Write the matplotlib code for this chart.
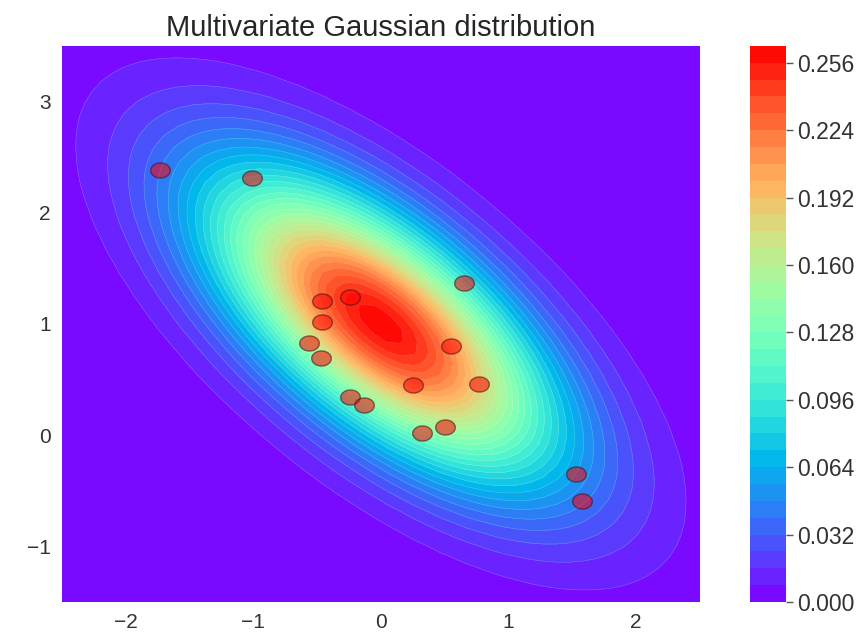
import numpy as np
import matplotlib
matplotlib.use('Agg')
import matplotlib.pyplot as plt
from matplotlib.path import Path

plt.rcParams['font.family'] = ['Liberation Sans', 'DejaVu Sans']

# distribution parameters
mean = [0.0, 1.0]
cov = [[0.82, -0.55], [-0.55, 0.82]]

# sampled points
xs = [-1.73, -1.01, 0.65, -0.46, -0.24, -0.46, -0.56, -0.47, 0.55,
      0.25, 0.77, -0.24, -0.13, 0.32, 0.50, 1.53, 1.58]
ys = [2.38, 2.31, 1.37, 1.21, 1.24, 1.02, 0.83, 0.69, 0.80,
      0.45, 0.46, 0.34, 0.27, 0.02, 0.07, -0.35, -0.59]

cbar_ticks = [0.000, 0.032, 0.064, 0.096, 0.128, 0.160, 0.192, 0.224, 0.256]

# density on a grid
nb = 50
gx = np.linspace(-2.5, 2.5, nb)
gy = np.linspace(-1.5, 3.5, nb)
X, Y = np.meshgrid(gx, gy)
mu = np.array(mean)
S = np.array(cov)
Sinv = np.linalg.inv(S)
D = np.stack([X - mu[0], Y - mu[1]], axis=-1)
q = np.einsum('...i,ij,...j->...', D, Sinv, D)
Z = np.exp(-0.5 * q) / (2 * np.pi * np.sqrt(np.linalg.det(S)))

levels = np.arange(0, 0.2641, 0.008)
Z = np.minimum(Z, levels[-1] - 1e-6)

# slightly wide circle marker (reference picture is stretched sideways)
t = np.linspace(0, 2 * np.pi, 60)
wide_dot = Path(np.column_stack([1.3 * np.cos(t), np.sin(t)]), closed=True)

fig = plt.figure(figsize=(8.65, 6.37), dpi=100)
ax = fig.add_axes([0.0717, 0.055, 0.7373, 0.873])
cax = fig.add_axes([0.867, 0.055, 0.0416, 0.873])

cs = ax.contourf(X, Y, Z, levels=levels, cmap='rainbow')
ax.contour(X, Y, Z, levels=levels[1:], colors='white', linewidths=0.4, alpha=0.25)
ax.scatter(xs, ys, s=200, marker=wide_dot, color='red', alpha=0.55,
           edgecolors='#3a1010', linewidths=1, zorder=3)

ax.set_xlim(-2.5, 2.5)
ax.set_ylim(-1.5, 3.5)
ax.set_xticks([-2, -1, 0, 1, 2])
ax.set_yticks([-1, 0, 1, 2, 3])
for s in ax.spines.values():
    s.set_visible(False)
ax.tick_params(length=0, labelsize=15, labelcolor='#333333', pad=8)
ax.set_title('Multivariate Gaussian distribution', fontsize=21, color='#262626', pad=7)

cb = fig.colorbar(cs, cax=cax, ticks=cbar_ticks, format='%.3f')
cb.outline.set_visible(False)
cax.tick_params(length=5, width=1, color='#555555', labelsize=16.5, labelcolor='#333333', pad=3)

plt.savefig('out.png', dpi=100)
